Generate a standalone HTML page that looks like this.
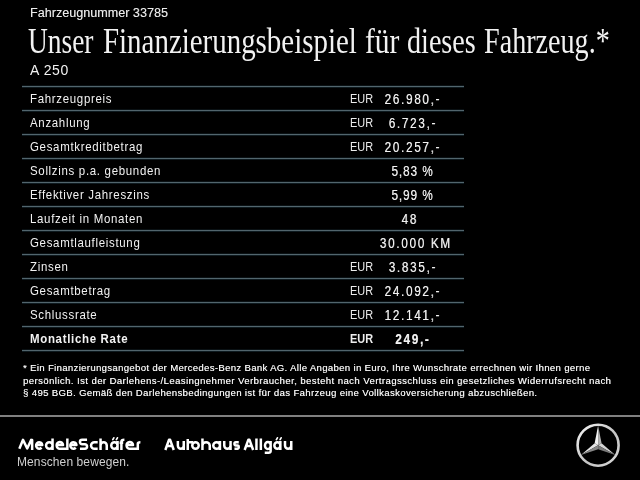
<!DOCTYPE html>
<html><head><meta charset="utf-8">
<style>
html,body{margin:0;padding:0;background:#000;}
body{width:640px;height:480px;position:relative;overflow:hidden;font-family:"Liberation Sans",sans-serif;color:#f2f2f2;}
.g{position:absolute;left:0;top:0;width:640px;height:480px;filter:grayscale(1);}
.t{position:absolute;white-space:nowrap;line-height:1;}
.sx{transform-origin:0 0;display:inline-block;}
.hl{position:absolute;left:22px;width:442px;height:3px;background:linear-gradient(#0a1114 0,#0a1114 1px,#52656d 1px,#52656d 2px,#0e1a1f 2px);}
.lab{position:absolute;left:30px;font-size:13.5px;white-space:nowrap;line-height:1;color:#f2f2f2;letter-spacing:0.8px;transform-origin:0 0;transform:scaleX(0.85)}
.eur{position:absolute;left:350px;font-size:12px;white-space:nowrap;line-height:1;color:#ececec;}
.eur span{display:inline-block;transform-origin:0 0;transform:scaleX(0.91)}
.val{position:absolute;left:312px;width:200px;text-align:center;font-size:14px;white-space:nowrap;line-height:1;transform-origin:100px 0;transform:scaleX(0.84);text-shadow:0.4px 0 0 rgba(255,255,255,0.5)}
.disc{position:absolute;left:23px;font-size:9.5px;line-height:12.5px;white-space:nowrap;color:#ffffff;text-shadow:0.35px 0 0 rgba(255,255,255,0.55);}
</style></head>
<body>
<div class="g">

<div class="t" style="left:30px;top:7px;font-size:12.5px;letter-spacing:0.05px;color:#ececec;text-shadow:0.3px 0 0 rgba(255,255,255,0.4)">Fahrzeugnummer 33785</div>
<div class="t" style="left:27.97px;top:24px;font-size:35px;font-family:'Liberation Serif',serif;transform-origin:0 0;transform:scaleX(0.7831)">Unser</div>
<div class="t" style="left:102.92px;top:24px;font-size:35px;font-family:'Liberation Serif',serif;transform-origin:0 0;transform:scaleX(0.8263)">Finanzierungsbeispiel</div>
<div class="t" style="left:365.41px;top:24px;font-size:35px;font-family:'Liberation Serif',serif;transform-origin:0 0;transform:scaleX(0.8438)">für</div>
<div class="t" style="left:406.70px;top:24px;font-size:35px;font-family:'Liberation Serif',serif;transform-origin:0 0;transform:scaleX(0.8036)">dieses</div>
<div class="t" style="left:484.20px;top:24px;font-size:35px;font-family:'Liberation Serif',serif;transform-origin:0 0;transform:scaleX(0.8036)">Fahrzeug.*</div>
<div class="t" style="left:30px;top:63px;font-size:14px;letter-spacing:0.6px;">A 250</div>
<div class="lab" style="top:92px">Fahrzeugpreis</div>
<div class="eur" style="top:93px"><span>EUR</span></div>
<div class="val" style="top:92px;margin-left:0px;letter-spacing:2.0px;text-indent:2.0px">26.980,-</div>
<div class="lab" style="top:116px">Anzahlung</div>
<div class="eur" style="top:117px"><span>EUR</span></div>
<div class="val" style="top:116px;margin-left:0px;letter-spacing:2.0px;text-indent:2.0px">6.723,-</div>
<div class="lab" style="top:140px">Gesamtkreditbetrag</div>
<div class="eur" style="top:141px"><span>EUR</span></div>
<div class="val" style="top:140px;margin-left:0px;letter-spacing:2.0px;text-indent:2.0px">20.257,-</div>
<div class="lab" style="top:164px">Sollzins p.a. gebunden</div>
<div class="val" style="top:164px;margin-left:0px;letter-spacing:1.1px;text-indent:1.1px">5,83 %</div>
<div class="lab" style="top:188px">Effektiver Jahreszins</div>
<div class="val" style="top:188px;margin-left:0px;letter-spacing:1.1px;text-indent:1.1px">5,99 %</div>
<div class="lab" style="top:212px">Laufzeit in Monaten</div>
<div class="val" style="top:212px;margin-left:-3.5px;letter-spacing:2.0px;text-indent:2.0px">48</div>
<div class="lab" style="top:236px">Gesamtlaufleistung</div>
<div class="val" style="top:236px;margin-left:2.5px;letter-spacing:2.0px;text-indent:2.0px">30.000 KM</div>
<div class="lab" style="top:260px">Zinsen</div>
<div class="eur" style="top:261px"><span>EUR</span></div>
<div class="val" style="top:260px;margin-left:0px;letter-spacing:2.0px;text-indent:2.0px">3.835,-</div>
<div class="lab" style="top:284px">Gesamtbetrag</div>
<div class="eur" style="top:285px"><span>EUR</span></div>
<div class="val" style="top:284px;margin-left:0px;letter-spacing:2.0px;text-indent:2.0px">24.092,-</div>
<div class="lab" style="top:308px">Schlussrate</div>
<div class="eur" style="top:309px"><span>EUR</span></div>
<div class="val" style="top:308px;margin-left:0px;letter-spacing:2.0px;text-indent:2.0px">12.141,-</div>
<div class="lab" style="top:332px;font-weight:bold">Monatliche Rate</div>
<div class="eur" style="top:333px;font-weight:bold"><span>EUR</span></div>
<div class="val" style="top:332px;margin-left:0px;letter-spacing:2.0px;text-indent:2.0px;font-weight:bold">249,-</div>
<div class="disc" style="top:362px"><span style="letter-spacing:0.368px">* Ein Finanzierungsangebot der Mercedes-Benz Bank AG. Alle Angaben in Euro, Ihre Wunschrate errechnen wir Ihnen gerne</span><br><span style="letter-spacing:0.447px">persönlich. Ist der Darlehens-/Leasingnehmer Verbraucher, besteht nach Vertragsschluss ein gesetzliches Widerrufsrecht nach</span><br><span style="letter-spacing:0.391px">§ 495 BGB. Gemäß den Darlehensbedingungen ist für das Fahrzeug eine Vollkaskoversicherung abzuschließen.</span></div>
<div style="position:absolute;left:0;top:415px;width:640px;height:2px;background:#808080"></div>
<svg style="position:absolute;left:0;top:0" width="640" height="480"><path d="M19.35 448.75 L23.02 439.85 L27.20 448.45 L31.23 439.85 L32.15 440.05 L32.15 450.00 M36.25 445.00 L42.25 445.00 A3.10 3.25 0 1 0 41.52 447.59 M52.55 445.50 A3.25 3.25 0 1 0 46.05 445.50 A3.25 3.25 0 1 0 52.55 445.50 M52.55 438.60 L52.55 450.00 M56.85 445.00 L63.05 445.00 A3.20 3.25 0 0 0 56.65 445.50 A3.20 3.25 0 0 0 59.85 448.75 L67.00 448.75 M67.35 438.60 L67.35 450.00 M70.45 445.00 L76.45 445.00 A3.10 3.25 0 1 0 75.72 447.59 M87.05 439.85 L82.08 439.85 A2.13 2.22 0 0 0 82.08 444.30 L84.92 444.30 A2.13 2.22 0 0 1 84.92 448.75 L79.95 448.75 M97.70 442.25 L94.46 442.25 A3.41 3.25 0 0 0 94.46 448.75 L97.70 448.75 M100.55 438.60 L100.55 450.00 M100.55 445.50 A3.10 3.25 0 0 1 106.75 445.50 L106.75 450.00 M117.55 445.50 A3.15 3.25 0 1 0 111.25 445.50 A3.15 3.25 0 1 0 117.55 445.50 M117.55 441.00 L117.55 450.00 M121.40 450.00 L121.40 441.85 Q121.40 439.85 124.40 439.85 M119.60 442.85 L123.20 442.85 M126.75 445.00 L133.05 445.00 A3.25 3.25 0 0 0 126.55 445.50 A3.25 3.25 0 0 0 129.80 448.75 L137.80 448.75 M137.80 450.00 L137.80 443.85 Q137.80 442.25 140.40 442.25" fill="none" stroke="#fff" stroke-width="2.5" stroke-linecap="butt" stroke-linejoin="round"/></svg>
<svg style="position:absolute;left:0;top:0" width="640" height="480"><path d="M112.80 439.60 L113.80 437.80 M116.40 439.60 L117.40 437.80 M276.40 439.60 L277.40 437.80 M280.10 439.60 L281.10 437.80" fill="none" stroke="#fff" stroke-width="1.7" stroke-linecap="round"/></svg>
<div class="t" style="left:17px;top:456px;font-size:12px;letter-spacing:0.1px;color:#d0d0d0">Menschen bewegen.</div>
<svg style="position:absolute;left:0;top:0" width="640" height="480"><path d="M165.35 450.00 L168.95 439.85 L170.15 439.85 L173.75 450.00 M166.77 446.00 L172.33 446.00 M177.85 441.00 L177.85 445.50 A2.95 3.25 0 0 0 183.75 445.50 M183.75 441.00 L183.75 450.00 M187.75 438.90 L187.75 450.00 M186.80 442.25 L193.00 442.25 M198.75 445.50 A3.25 3.25 0 1 0 192.25 445.50 A3.25 3.25 0 1 0 198.75 445.50 Z M202.45 438.60 L202.45 450.00 M202.45 445.50 A3.65 3.25 0 0 1 209.75 445.50 L209.75 450.00 M219.95 445.50 A3.35 3.25 0 1 0 213.25 445.50 A3.35 3.25 0 1 0 219.95 445.50 M219.95 441.00 L219.95 450.00 M224.25 441.00 L224.25 445.50 A3.15 3.25 0 0 0 230.55 445.50 M230.55 441.00 L230.55 450.00 M238.75 442.25 L235.74 442.25 A1.29 1.62 0 0 0 235.74 445.50 L237.46 445.50 A1.29 1.62 0 0 1 237.46 448.75 L234.45 448.75 M244.65 450.00 L248.30 439.85 L249.50 439.85 L253.15 450.00 M246.09 446.00 L251.71 446.00 M256.45 438.60 L256.45 450.00 M260.85 438.60 L260.85 450.00 M270.65 445.50 A2.83 3.25 0 1 0 265.00 445.50 A2.83 3.25 0 1 0 270.65 445.50 M270.65 441.00 L270.65 450.95 Q270.65 452.75 268.45 452.75 L264.75 452.75 M280.35 445.50 A3.00 3.25 0 1 0 274.35 445.50 A3.00 3.25 0 1 0 280.35 445.50 M280.35 441.00 L280.35 450.00 M285.00 441.00 L285.00 445.50 A3.12 3.25 0 0 0 291.25 445.50 M291.25 441.00 L291.25 450.00" fill="none" stroke="#fff" stroke-width="2.5" stroke-linecap="butt" stroke-linejoin="round"/></svg>
<svg style="position:absolute;left:570px;top:417px" width="56" height="56" viewBox="-28.1 -28.2 56 56"><defs><linearGradient id="rg" x1="0" y1="0" x2="1" y2="1"><stop offset="0" stop-color="#f4f4f4"/><stop offset="0.55" stop-color="#c4c4c4"/><stop offset="1" stop-color="#d8d8d8"/></linearGradient></defs><circle cx="0" cy="0" r="20.5" fill="none" stroke="url(#rg)" stroke-width="2.6"/><path d="M0 0 L0.00 -19.80 L-3.46 -2.00 Z" fill="#f2f2f2"/><path d="M0 0 L0.00 -19.80 L3.46 -2.00 Z" fill="#b4b4b4"/><path d="M0 0 L17.15 9.90 L3.46 -2.00 Z" fill="#d4d4d4"/><path d="M0 0 L17.15 9.90 L0.00 4.00 Z" fill="#7a7a7a"/><path d="M0 0 L-17.15 9.90 L-3.46 -2.00 Z" fill="#e4e4e4"/><path d="M0 0 L-17.15 9.90 L0.00 4.00 Z" fill="#858585"/></svg>
</div>
<div class="hl" style="top:85px"></div>
<div class="hl" style="top:109px"></div>
<div class="hl" style="top:133px"></div>
<div class="hl" style="top:157px"></div>
<div class="hl" style="top:181px"></div>
<div class="hl" style="top:205px"></div>
<div class="hl" style="top:229px"></div>
<div class="hl" style="top:253px"></div>
<div class="hl" style="top:277px"></div>
<div class="hl" style="top:301px"></div>
<div class="hl" style="top:325px"></div>
<div class="hl" style="top:349px"></div>
</body></html>
